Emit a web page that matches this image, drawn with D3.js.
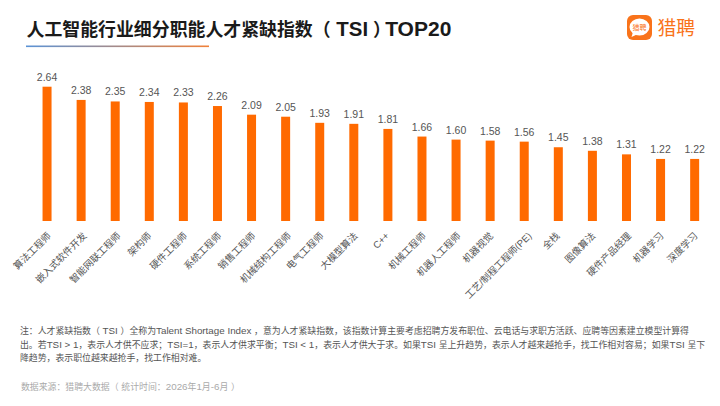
<!DOCTYPE html>
<html>
<head>
<meta charset="utf-8">
<script src="https://cdn.jsdelivr.net/npm/d3@7"></script>
<style>
html,body{margin:0;padding:0;background:#fff;}
svg{display:block;font-family:"Liberation Sans","Noto Sans CJK SC",sans-serif;}
</style>
</head>
<body>
<div id="chart"></div>
<script>
const titleText = "人工智能行业细分职能人才紧缺指数（ TSI ）TOP20";
const categories = ["算法工程师","嵌入式软件开发","智能网联工程师","架构师","硬件工程师","系统工程师","销售工程师","机械结构工程师","电气工程师","大模型算法","C++","机械工程师","机器人工程师","机器视觉","工艺/制程工程师(PE)","全栈","图像算法","硬件产品经理","机器学习","深度学习"];
const values = [2.64,2.38,2.35,2.34,2.33,2.26,2.09,2.05,1.93,1.91,1.81,1.66,1.60,1.58,1.56,1.45,1.38,1.31,1.22,1.22];
const noteLines = [
  "注：人才紧缺指数（ TSI ）全称为Talent Shortage Index ，意为人才紧缺指数，该指数计算主要考虑招聘方发布职位、云电话与求职方活跃、应聘等因素建立模型计算得",
  "出。若TSI > 1，表示人才供不应求；TSI=1，表示人才供求平衡；TSI < 1，表示人才供大于求。如果TSI 呈上升趋势，表示人才越来越抢手，找工作相对容易；如果TSI 呈下",
  "降趋势，表示职位越来越抢手，找工作相对难。"
];
const sourceText = "数据来源：猎聘大数据（ 统计时间：2026年1月-6月 ）";

// Latin runs are set larger than CJK runs so the two scripts look the same size.
function mixedRuns(sel, str, cjkSize, latinSize) {
  const runs = str.match(/[\x20-\x7e]+|[^\x20-\x7e]+/g);
  sel.selectAll("tspan").data(runs).join("tspan")
    .attr("xml:space","preserve")
    .attr("font-size", r => /^[\x20-\x7e]/.test(r) ? latinSize : cjkSize)
    .text(r => r);
}

const svg = d3.select("#chart").append("svg").attr("width",720).attr("height",406);
svg.style("white-space","pre");

const grad = svg.append("defs").append("linearGradient").attr("id","rule");
grad.append("stop").attr("offset","0%").attr("stop-color","#5b93d6");
grad.append("stop").attr("offset","100%").attr("stop-color","#f0813a");

const title = svg.append("text").attr("x",26.5).attr("y",36)
  .attr("font-weight",700).attr("fill","#1a1a1a")
  .call(mixedRuns, titleText, 17.9, 20.4);
// The closing bracket sets proportionally; TOP20 runs slightly larger after it.
title.selectAll("tspan").filter((d,i)=>i===2).style("font-feature-settings",'"palt"');
title.selectAll("tspan").filter((d,i)=>i===3).attr("font-size",21).attr("dx",2.5);
svg.append("rect").attr("x",26).attr("y",45.5).attr("width",183).attr("height",1.6).attr("fill","url(#rule)");

// Brand mark: rounded tile, speech bubble and wordmark
const logo = svg.append("g");
logo.append("rect").attr("x",627).attr("y",15).attr("width",25).attr("height",25).attr("rx",6).attr("fill","#f9731a");
logo.append("ellipse").attr("cx",639.5).attr("cy",27).attr("rx",10).attr("ry",8.6).attr("fill","#fff");
logo.append("path").attr("d","M633 32 L631.5 37 L638 34 Z").attr("fill","#fff");
logo.append("text").attr("x",639.5).attr("y",30).attr("text-anchor","middle")
  .attr("font-size",7).attr("fill","#f9731a").text("猎聘");
logo.append("text").attr("x",657.5).attr("y",34.5).attr("font-size",18.8).attr("fill","#f9731a").text("猎聘");

const x = d3.scaleBand().domain(categories).range([30,711.7]).paddingInner(0.736).paddingOuter(0.368);
const y = d3.scaleLinear().domain([0,2.64]).range([221,86.7]);

svg.append("g").selectAll("rect").data(values).join("rect")
  .attr("x",(d,i)=>x(categories[i]))
  .attr("y",d=>y(d))
  .attr("width",x.bandwidth())
  .attr("height",d=>y(0)-y(d))
  .attr("fill","#ff6a00");

svg.append("g").selectAll("text").data(values).join("text")
  .attr("x",(d,i)=>x(categories[i])+x.bandwidth()/2)
  .attr("y",d=>y(d)-6)
  .attr("text-anchor","middle").attr("font-size",10.5).attr("fill","#555")
  .text(d=>d.toFixed(2));

const axis = svg.append("g").attr("transform","translate(0,221)")
  .call(d3.axisBottom(x).tickSize(0).tickPadding(0));
axis.select(".domain").remove();
axis.selectAll("text")
  .attr("font-size",9.6).attr("fill","#555")
  .attr("font-family",'"Liberation Sans","Noto Sans CJK SC",sans-serif')
  .attr("text-anchor","end").attr("y",0).attr("dy","0.35em")
  // Longer labels reach slightly further right of their bar.
  .attr("transform",function(){
    const len = this.getComputedTextLength();
    return `translate(${0.085*len-2},13) rotate(-45)`;
  });

svg.append("g").selectAll("text").data(noteLines).join("text")
  .attr("x",20).attr("y",(d,i)=>334+i*13.5)
  .attr("fill","#555")
  .each(function(d){ d3.select(this).call(mixedRuns, d, 8.88, 9.8); });

svg.append("text").attr("x",21).attr("y",390).attr("fill","#aaa")
  .call(mixedRuns, sourceText, 8.88, 9.8);
</script>
</body>
</html>
